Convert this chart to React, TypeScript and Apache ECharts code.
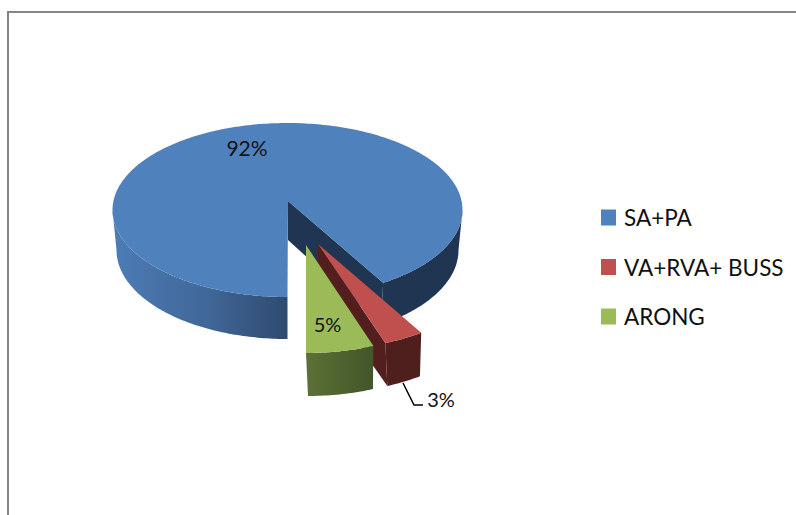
import React, { useEffect, useRef } from "react";
import * as echarts from "echarts";

const categories = ["SA+PA", "VA+RVA+ BUSS", "ARONG"];
const percentValues = [92, 3, 5];
const legendColors = ["#4f81bd", "#c0504d", "#9bbb59"];

const FONT = "Lato, 'Open Sans', sans-serif";
const grad = (stops: [number, string][]) =>
  new echarts.graphic.LinearGradient(0, 0, 1, 0, stops.map(([offset, color]) => ({ offset, color })));

// Projection of each slice of the tilted, exploded pie (layout only, no values)
const slices = [
  {
    top: { cx: 287.5, cy: 210, rx: 175, ry: 87 },
    bottom: { cx: 287.5, cy: 250, rx: 171, ry: 89 },
    apexTop: [288, 201],
    apexBottom: [288, 240],
    cutFace: "#1f3552",
    label: { x: 247, y: 147, size: 21 },
    leader: null,
  },
  {
    top: { cx: 319, cy: 244, rx: 187, ry: 106 },
    bottom: { cx: 327, cy: 292.5, rx: 170, ry: 100 },
    apexTop: [318, 244],
    apexBottom: [318, 287],
    cutFace: "#521f1e",
    label: { x: 441, y: 399, size: 20 },
    leader: [[403, 383], [414, 405], [423, 405]],
  },
  {
    top: { cx: 306, cy: 245, rx: 190, ry: 108 },
    bottom: { cx: 308, cy: 290, rx: 183, ry: 106 },
    apexTop: [306, 245],
    apexBottom: null,
    cutFace: null,
    label: { x: 327.5, y: 324, size: 20 },
    leader: null,
  },
];

const rad = (d: number) => (d * Math.PI) / 180;
// perspective widens the angles near the viewer
const warp = (deg: number) => deg + 9 * Math.sin(rad(deg));
const onArc = (e: any, deg: number) => [e.cx + e.rx * Math.sin(rad(deg)), e.cy + e.ry * Math.cos(rad(deg))];
const arc = (e: any, from: number, to: number) => {
  const n = Math.max(2, Math.ceil(Math.abs(to - from)));
  const pts: number[][] = [];
  for (let i = 0; i <= n; i++) pts.push(onArc(e, from + ((to - from) * i) / n));
  return pts;
};

const total = percentValues.reduce((a, b) => a + b, 0);

function sliceRange(index: number) {
  // clockwise on screen from the front of the pie, angle measured from the front
  let before = 0;
  for (let i = 0; i < index; i++) before += percentValues[i];
  const hi = 360 - (before / total) * 360;
  const lo = hi - (percentValues[index] / total) * 360;
  return [warp(lo), warp(hi)];
}

function wallFill(index: number, lo: number) {
  if (index === 0) {
    return lo >= 180
      ? grad([[0, "#4d7cb6"], [0.55, "#406797"], [1, "#2e4a70"]])
      : "#1f3552";
  }
  if (index === 1) return "#4f1f1e";
  return grad([[0, "#5c7136"], [1, "#43552a"]]);
}

function renderSlice(index: number) {
  const s = slices[index];
  const [lo, hi] = sliceRange(index);
  const children: any[] = [];
  if (s.leader) {
    children.push({
      type: "polyline",
      shape: { points: s.leader },
      style: { stroke: "#000", lineWidth: 1.5, fill: "none" },
    });
  }
  if (s.cutFace && s.apexBottom) {
    children.push({
      type: "polygon",
      shape: { points: [s.apexTop, onArc(s.top, lo), onArc(s.bottom, lo), s.apexBottom] },
      style: { fill: s.cutFace },
    });
  }
  // outer wall, only the part facing the viewer
  const ranges: number[][] = [];
  if (lo < 90) ranges.push([lo, Math.min(hi, 90)]);
  if (hi > 270) ranges.push([Math.max(lo, 270), hi]);
  ranges.forEach(([a, b]) => {
    children.push({
      type: "polygon",
      shape: { points: [...arc(s.top, a, b), ...arc(s.bottom, b, a)] },
      style: { fill: wallFill(index, a) },
    });
  });
  children.push({
    type: "polygon",
    shape: { points: [s.apexTop, ...arc(s.top, lo, hi)] },
    style: { fill: legendColors[index] },
  });
  children.push({
    type: "text",
    style: {
      text: `${percentValues[index]}%`,
      x: s.label.x,
      y: s.label.y,
      fill: "#111",
      font: `${s.label.size}px ${FONT}`,
      align: "center",
      verticalAlign: "middle",
    },
  });
  return { type: "group", children };
}

export default function App() {
  const ref = useRef<HTMLDivElement>(null);
  useEffect(() => {
    document.body.style.margin = "0";
    const chart = echarts.init(ref.current!, undefined, { renderer: "svg" });
    chart.setOption({
      animation: false,
      backgroundColor: "#ffffff",
      legend: {
        orient: "vertical",
        left: 601,
        top: 206,
        padding: 0,
        itemWidth: 15,
        itemHeight: 16,
        itemGap: 26.5,
        icon: "rect",
        data: categories,
        textStyle: {
          fontFamily: FONT,
          fontSize: 22.5,
          color: "#111",
          padding: [0, 0, 0, 3],
        },
      },
      graphic: [
        {
          type: "polyline",
          shape: { points: [[8, 515], [8, 12], [796, 12]] },
          style: { stroke: "#868686", lineWidth: 2, fill: "none" },
        },
      ],
      series: categories.map((name, i) => ({
        type: "custom",
        name,
        coordinateSystem: "none",
        silent: true,
        itemStyle: { color: legendColors[i] },
        data: [percentValues[i]],
        renderItem: () => renderSlice(i),
      })),
    });
    return () => chart.dispose();
  }, []);
  return <div ref={ref} style={{ width: 796, height: 515 }} />;
}
